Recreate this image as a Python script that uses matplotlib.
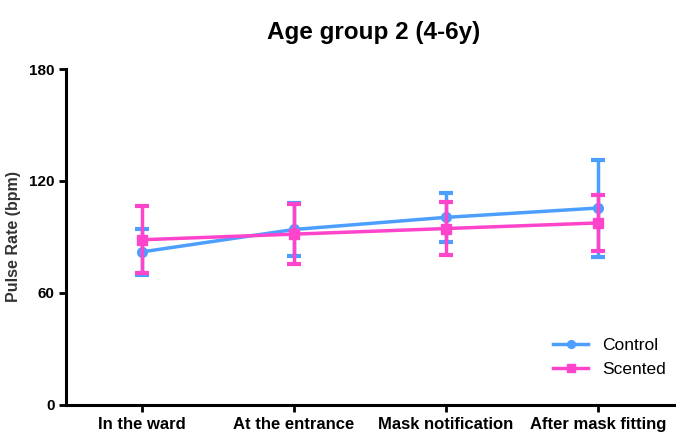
import matplotlib
matplotlib.use("Agg")
import matplotlib.pyplot as plt
import numpy as np

plt.rcParams['font.family'] = ['Liberation Sans', 'DejaVu Sans']

stages = ["In the ward", "At the entrance", "Mask notification", "After mask fitting"]
control_mean = [82, 94, 100.5, 105.5]
control_err = [12.5, 14, 13, 26]
scented_mean = [88.5, 91.5, 94.5, 97.5]
scented_err = [18, 16, 14, 15]

blue = "#4d9fff"
pink = "#ff44cc"

fig = plt.figure(figsize=(6.76, 4.4), dpi=100)
ax = fig.add_axes([0.098, 0.08, 0.91, 0.763])

x = np.arange(len(stages))
c = ax.errorbar(x, control_mean, yerr=control_err, color=blue, lw=2.5, marker='o', ms=7,
                capsize=5, capthick=3, elinewidth=2.5, zorder=2)
s = ax.errorbar(x, scented_mean, yerr=scented_err, color=pink, lw=2.5, marker='s', ms=7,
                capsize=5, capthick=3, elinewidth=2.5, zorder=3)

ax.set_xlim(-0.5, 3.55)
ax.set_ylim(0, 180)
ax.set_yticks([0, 60, 120, 180])
ax.set_xticks(x)
ax.set_xticklabels(stages, fontsize=12, fontweight='bold')
for lab in ax.get_yticklabels():
    lab.set_fontweight('bold')
    lab.set_fontsize(11)
ax.set_ylabel("Pulse Rate (bpm)", fontsize=11.5, fontweight='bold', color='#333333', labelpad=6)
ax.set_title("Age group 2 (4-6y)", fontsize=17.5, fontweight='bold', pad=22)

for sp in ['top', 'right']:
    ax.spines[sp].set_visible(False)
for sp in ['left', 'bottom']:
    ax.spines[sp].set_linewidth(2.2)
ax.tick_params(width=2, length=5)

ax.legend([c[0], s[0]], ["Control", "Scented"], loc='lower right', frameon=False,
          fontsize=12.5, handlelength=2.0, markerscale=0.8, labelspacing=0.55,
          bbox_to_anchor=(1.0, 0.035))

fig.savefig("out.png", dpi=100)
